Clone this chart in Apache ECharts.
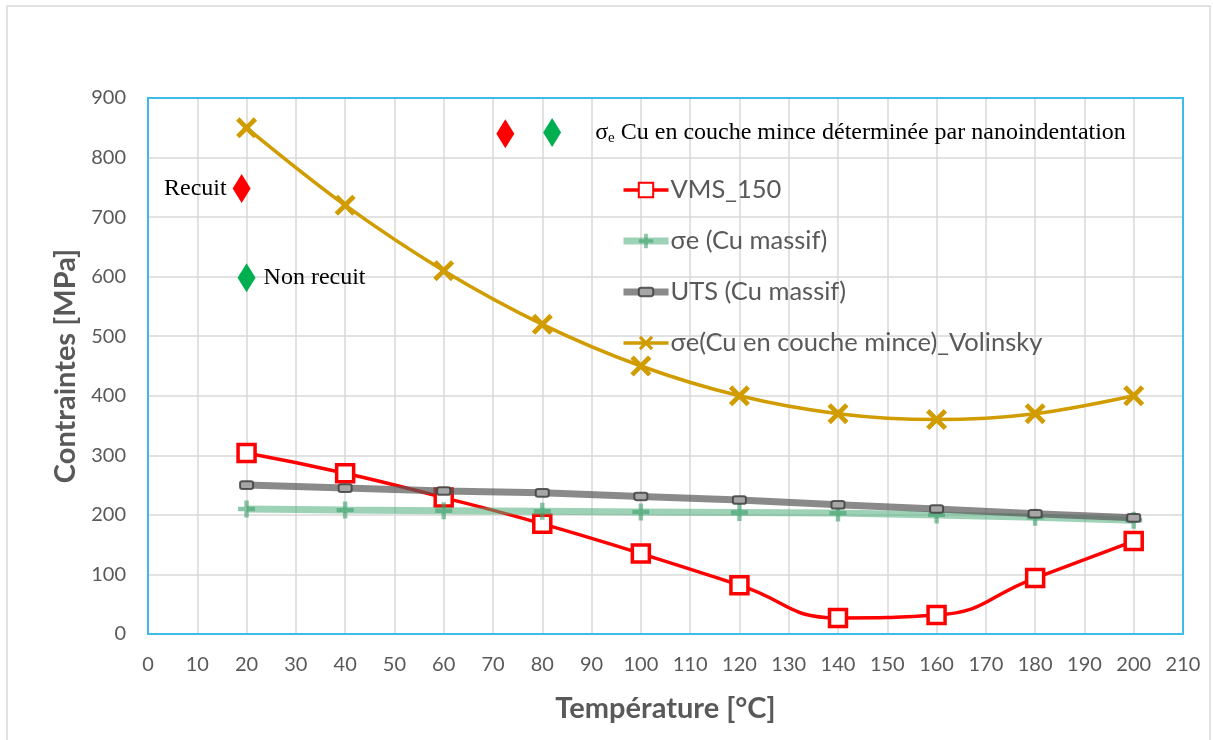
<!DOCTYPE html>
<html>
<head>
<meta charset="utf-8">
<script src="https://cdn.jsdelivr.net/npm/echarts@6/dist/echarts.min.js"></script>
<style>html,body{margin:0;padding:0;background:#fff;}#c{width:1213px;height:740px;}</style>
</head>
<body>
<div id="c"></div>
<script>
const temperatures = [20, 40, 60, 80, 100, 120, 140, 160, 180, 200];
const vms150 = [304, 270, 229, 185, 135, 82, 27, 32, 94, 156];
const sigmaMassif = [210, 208, 207, 206, 205, 204, 203, 200, 196, 191];
const utsMassif = [250, 245, 240, 237, 231, 225, 217, 210, 202, 195];
const volinsky = [850, 720, 610, 520, 450, 400, 370, 360, 370, 400];
const recuitPoints = [[19, 748], [72.5, 840]];
const nonRecuitPoints = [[20, 598], [82, 842]];
const seriesNames = ['VMS_150', 'σe (Cu massif)', 'UTS (Cu massif)', 'σe(Cu en couche mince)_Volinsky'];

const pair = (xs, ys) => xs.map((x, i) => [x, ys[i]]);
const crossPath = 'path://M0,1.6 L1.6,0 L5,3.4 L8.4,0 L10,1.6 L6.6,5 L10,8.4 L8.4,10 L5,6.6 L1.6,10 L0,8.4 L3.4,5 Z';
const plusPath = 'path://M3.7,0 L6.3,0 L6.3,3.7 L10,3.7 L10,6.3 L6.3,6.3 L6.3,10 L3.7,10 L3.7,6.3 L0,6.3 L0,3.7 L3.7,3.7 Z';
const pillPath = 'path://M0,-2.5 M12,9.5 M2,0 H10 Q12,0 12,2 V5 Q12,7 10,7 H2 Q0,7 0,5 V2 Q0,0 2,0 Z';
const axisFont = 'Lato, "Open Sans", sans-serif';
const serifFont = '"Liberation Serif", "Times New Roman", serif';

const chart = echarts.init(document.getElementById('c'), null, {renderer: 'canvas'});
chart.setOption({
  backgroundColor: '#ffffff',
  animation: false,
  graphic: [{
    type: 'rect', shape: {x: 7, y: 6, width: 1203, height: 740},
    style: {fill: 'none', stroke: '#d9d9d9', lineWidth: 1.5}, silent: true, z: -10
  }],
  grid: {left: 148, right: 30, top: 98, bottom: 106, show: true, borderColor: '#3fbbe8', borderWidth: 2, backgroundColor: 'transparent', z: 10},
  legend: {
    data: [
      {name: seriesNames[0], lineStyle: {width: 3.5}},
      {name: seriesNames[1], lineStyle: {width: 7}},
      {name: seriesNames[2], lineStyle: {width: 7}},
      {name: seriesNames[3], lineStyle: {width: 3.5}}
    ],
    orient: 'vertical',
    left: 620, top: 177, padding: 0,
    itemWidth: 45, itemHeight: 18, itemGap: 25,
    textStyle: {fontFamily: axisFont, fontSize: 25.5, color: '#595959', padding: [0, 0, 0, -3]}
  },
  xAxis: {
    type: 'value', min: 0, max: 210, interval: 10,
    name: 'Température [°C]', nameLocation: 'middle', nameGap: 60,
    nameTextStyle: {fontFamily: axisFont, fontSize: 29, fontWeight: 'bold', color: '#595959'},
    axisLine: {show: false}, axisTick: {show: false},
    axisLabel: {fontFamily: axisFont, fontSize: 20, color: '#595959', margin: 21},
    splitLine: {show: true, lineStyle: {color: '#d9d9d9', width: 1.5}}
  },
  yAxis: {
    type: 'value', min: 0, max: 900, interval: 100,
    name: 'Contraintes [MPa]', nameLocation: 'middle', nameGap: 68,
    nameTextStyle: {fontFamily: axisFont, fontSize: 29, fontWeight: 'bold', color: '#595959'},
    axisLine: {show: false}, axisTick: {show: false},
    axisLabel: {fontFamily: axisFont, fontSize: 20, color: '#595959', margin: 22},
    splitLine: {show: true, lineStyle: {color: '#d9d9d9', width: 1.5}}
  },
  series: [
    {
      name: seriesNames[0], type: 'line', data: pair(temperatures, vms150), smooth: 0.5,
      symbol: 'rect', symbolSize: 17, showAllSymbol: true,
      lineStyle: {color: '#ff0000', width: 3.5},
      itemStyle: {color: '#ffffff', borderColor: '#ff0000', borderWidth: 3.5}, z: 2
    },
    {
      name: seriesNames[1], type: 'line', data: pair(temperatures, sigmaMassif),
      symbol: plusPath, symbolSize: 17,
      lineStyle: {color: 'rgba(78,173,124,0.55)', width: 7},
      itemStyle: {color: 'rgba(60,160,105,0.6)'}, z: 3
    },
    {
      name: seriesNames[2], type: 'line', data: pair(temperatures, utsMassif),
      symbol: pillPath, symbolSize: 13,
      lineStyle: {color: 'rgba(89,89,89,0.7)', width: 7},
      itemStyle: {color: '#a6a6a6', borderColor: 'rgba(64,64,64,0.85)', borderWidth: 2}, z: 4
    },
    {
      name: seriesNames[3], type: 'line', data: pair(temperatures, volinsky), smooth: 0.35,
      symbol: crossPath, symbolSize: 21,
      lineStyle: {color: '#d09c00', width: 3.5},
      itemStyle: {color: '#d09c00'}, z: 5
    },
    {
      name: 'Recuit', type: 'scatter', data: recuitPoints,
      symbol: 'diamond', symbolSize: [18, 29],
      itemStyle: {color: '#ff0000', opacity: 1}, z: 6,
      label: {
        show: true, position: 'left', distance: 6,
        formatter: (p) => p.dataIndex === 0 ? 'Recuit' : '',
        fontFamily: serifFont, fontSize: 24, color: '#000000'
      }
    },
    {
      name: 'Non recuit', type: 'scatter',
      data: [
        {value: nonRecuitPoints[0]},
        {value: nonRecuitPoints[1], label: {distance: 34}}
      ],
      symbol: 'diamond', symbolSize: [18, 29],
      itemStyle: {color: '#00b050', opacity: 1}, z: 6,
      label: {
        show: true, position: 'right',
        distance: 8,
        formatter: (p) => p.dataIndex === 0 ? '{t|Non recuit}' : '{t|σ}{s|e}{t| Cu en couche mince déterminée par nanoindentation}',
        rich: {
          t: {fontFamily: serifFont, fontSize: 24, color: '#000000'},
          s: {fontFamily: serifFont, fontSize: 15, color: '#000000', padding: [12, 0, 0, 0]}
        }
      }
    }
  ]
});
</script>
</body>
</html>
